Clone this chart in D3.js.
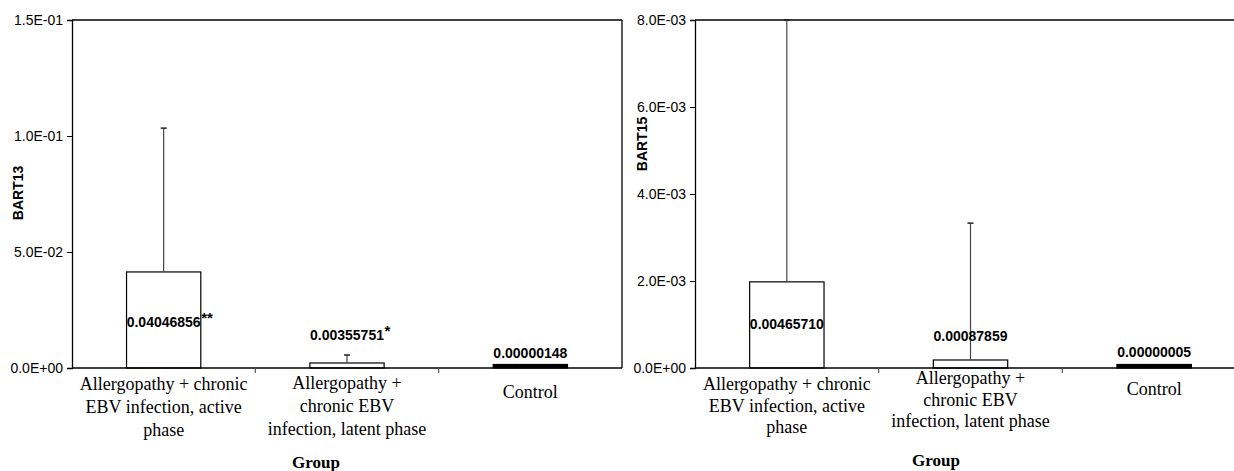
<!DOCTYPE html>
<html>
<head>
<meta charset="utf-8">
<script src="https://cdn.jsdelivr.net/npm/d3@7"></script>
<style>
  body { margin: 0; background: #fff; }
  svg { display: block; }
</style>
</head>
<body>
<svg id="chart" width="1234" height="471"></svg>
<script>
// ---------- data ----------
const categories = [
  "Allergopathy + chronic EBV infection, active phase",
  "Allergopathy + chronic EBV infection, latent phase",
  "Control"
];
const categoryLines = [
  ["Allergopathy + chronic", "EBV infection, active", "phase"],
  ["Allergopathy +", "chronic EBV", "infection, latent phase"],
  ["Control"]
];
const bart13Bar   = [0.0414, 0.00216, 0.00000148];
const bart13Upper = [0.1034, 0.0056, null];
const bart13Text  = ["0.04046856", "0.00355751", "0.00000148"];
const bart13Sig   = ["**", "*", ""];
const bart13Ticks = [0, 0.05, 0.10, 0.15];
const bart13TickLabels = ["0.0E+00", "5.0E-02", "1.0E-01", "1.5E-01"];

const bart15Bar   = [0.00198, 0.000184, 0.00000005];
const bart15Upper = [0.0080, 0.00333, null];
const bart15Text  = ["0.00465710", "0.00087859", "0.00000005"];
const bart15Sig   = ["", "", ""];
const bart15Ticks = [0, 0.002, 0.004, 0.006, 0.008];
const bart15TickLabels = ["0.0E+00", "2.0E-03", "4.0E-03", "6.0E-03", "8.0E-03"];

const filled = [false, false, true];

// ---------- layout ----------
const panels = [
  {
    name: "BART13", bar: bart13Bar, upper: bart13Upper, text: bart13Text, sig: bart13Sig,
    ticks: bart13Ticks, tickLabels: bart13TickLabels, max: 0.15,
    x0: 72, x1: 622, yTop: 20, yBot: 368, rightBorder: true,
    yLabel: [23, 193], group: [316, 468],
    labelBase: [327, 340, 358],
    catBase: [390, 389, 398], lineH: 23
  },
  {
    name: "BART15", bar: bart15Bar, upper: bart15Upper, text: bart15Text, sig: bart15Sig,
    ticks: bart15Ticks, tickLabels: bart15TickLabels, max: 0.008,
    x0: 695, x1: 1246, yTop: 20, yBot: 368, rightBorder: false,
    yLabel: [647, 144], group: [936, 466],
    labelBase: [329, 341, 357],
    catBase: [390, 384, 395], lineH: 21.5
  }
];

const svg = d3.select("#chart");
const sans = "'Liberation Sans', Arial, sans-serif";
const serif = "'Liberation Serif', 'Times New Roman', serif";

panels.forEach(p => {
  const g = svg.append("g");
  const x = d3.scaleBand().domain(categories).range([p.x0, p.x1]).padding(0);
  const y = d3.scaleLinear().domain([0, p.max]).range([p.yBot, p.yTop]);
  const bw = x.bandwidth() * 0.405;

  // frame: top and right
  g.append("line").attr("x1", p.x0).attr("x2", p.x1).attr("y1", y(p.max)).attr("y2", y(p.max))
    .attr("stroke", "#000").attr("stroke-width", 1.3);
  if (p.rightBorder) {
    g.append("line").attr("x1", p.x1).attr("x2", p.x1).attr("y1", y(p.max)).attr("y2", y(0))
      .attr("stroke", "#000").attr("stroke-width", 1.3);
  }

  // y axis
  const yAxis = d3.axisLeft(y).tickValues(p.ticks)
    .tickFormat((d, i) => p.tickLabels[i]).tickSize(5).tickPadding(4);
  const ya = g.append("g").attr("transform", `translate(${p.x0},0)`).call(yAxis);
  ya.attr("font-size", null).attr("font-family", null);
  ya.select(".domain").attr("stroke", "#000").attr("stroke-width", 1.3);
  ya.selectAll(".tick line").attr("stroke", "#000");
  ya.selectAll(".tick text").style("font-family", sans).style("font-size", "14px").attr("fill", "#000");

  // bars
  categories.forEach((c, i) => {
    const cx = x(c) + x.bandwidth() / 2;
    const v = p.bar[i];
    let h = y(0) - y(v);
    if (filled[i]) h = Math.max(h, 3.5);
    g.append("rect")
      .attr("x", cx - bw / 2).attr("y", y(0) - h)
      .attr("width", bw).attr("height", h)
      .attr("fill", filled[i] ? "#000" : "#fff")
      .attr("stroke", "#000").attr("stroke-width", 1.2);
    if (p.upper[i] != null) {
      g.append("line").attr("x1", cx).attr("x2", cx)
        .attr("y1", y(v)).attr("y2", y(p.upper[i]))
        .attr("stroke", "#444").attr("stroke-width", 1.2);
      g.append("line").attr("x1", cx - 3).attr("x2", cx + 3)
        .attr("y1", y(p.upper[i])).attr("y2", y(p.upper[i]))
        .attr("stroke", "#222").attr("stroke-width", 1.5);
    }
  });

  // x axis
  const xa = g.append("g").attr("transform", `translate(0,${p.yBot})`);
  xa.append("line").attr("x1", p.x0).attr("x2", p.x1).attr("y1", 0).attr("y2", 0)
    .attr("stroke", "#000").attr("stroke-width", 1.3);
  categories.slice(1).forEach(c => {
    xa.append("line").attr("x1", x(c)).attr("x2", x(c)).attr("y1", 0).attr("y2", 5)
      .attr("stroke", "#555").attr("stroke-width", 1.2);
  });

  // category labels
  categories.forEach((c, i) => {
    const cx = x(c) + x.bandwidth() / 2;
    const t = g.append("text").attr("font-family", serif).attr("font-size", 18)
      .attr("text-anchor", "middle").attr("fill", "#000");
    categoryLines[i].forEach((ln, j) => {
      t.append("tspan").attr("x", cx).attr("y", p.catBase[i] + j * p.lineH).text(ln);
    });
  });

  // value labels
  categories.forEach((c, i) => {
    const cx = x(c) + x.bandwidth() / 2;
    const t = g.append("text").attr("x", cx).attr("y", p.labelBase[i])
      .attr("font-family", sans).attr("font-size", 14).attr("font-weight", "bold")
      .attr("text-anchor", "middle").attr("fill", "#000").text(p.text[i]);
    if (p.sig[i]) {
      const w = t.node().getComputedTextLength();
      g.append("text").attr("x", cx + w / 2 + 0.5).attr("y", p.labelBase[i] - 4)
        .attr("font-family", sans).attr("font-size", 15).attr("font-weight", "bold")
        .attr("fill", "#000").text(p.sig[i]);
    }
  });

  // axis titles
  g.append("text").attr("transform", `translate(${p.yLabel[0]},${p.yLabel[1]}) rotate(-90)`)
    .attr("text-anchor", "middle").attr("font-family", sans).attr("font-size", 14)
    .attr("font-weight", "bold").attr("fill", "#000").text(p.name);
  g.append("text").attr("x", p.group[0]).attr("y", p.group[1])
    .attr("text-anchor", "middle").attr("font-family", serif).attr("font-size", 17)
    .attr("font-weight", "bold").attr("fill", "#000").text("Group");
});
</script>
</body>
</html>
